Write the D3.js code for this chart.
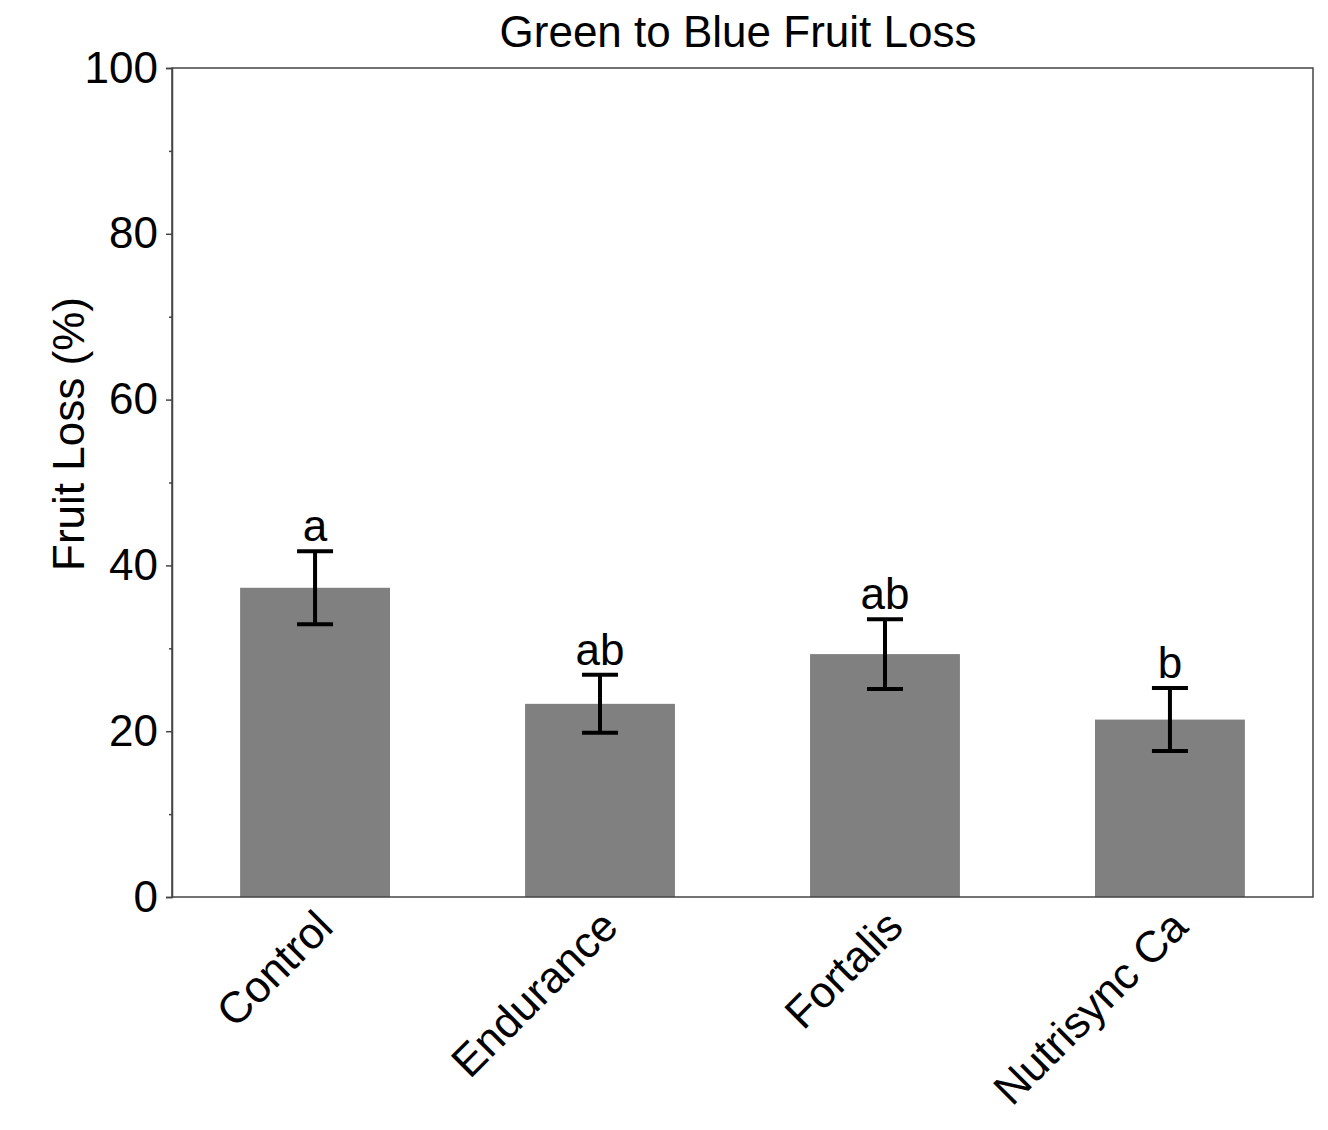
<!DOCTYPE html>
<html><head><meta charset="utf-8">
<script src="https://cdn.jsdelivr.net/npm/d3@7"></script>
<style>body{margin:0;background:#fff}svg{font-family:"Liberation Sans",Arial,sans-serif}</style>
</head><body>
<svg id="c" width="1328" height="1130"></svg>
<script>
const categories = ["Control","Endurance","Fortalis","Nutrisync Ca"];
const values = [37.3, 23.3, 29.3, 21.4];
const errors = [4.4, 3.5, 4.2, 3.8];
const letters = ["a","ab","ab","b"];
const yTicks = [0,20,40,60,80,100];
const yMinor = [10,30,50,70,90];

const svg = d3.select("#c");
const m = {l:172, r:1313, t:68, b:897};
const x = d3.scaleBand().domain(categories).range([m.l, m.r]).paddingInner(0.474).paddingOuter(0.239);
const y = d3.scaleLinear().domain([0,100]).range([m.b, m.t]);
const axisColor = "#444";
const fs = 44;

svg.selectAll("rect.bar").data(values).enter().append("rect")
  .attr("x",(d,i)=>x(categories[i])).attr("width",x.bandwidth())
  .attr("y",d=>y(d)).attr("height",d=>y(0)-y(d)).attr("fill","#808080");

// frame
svg.append("rect").attr("x",m.l).attr("y",m.t).attr("width",m.r-m.l).attr("height",m.b-m.t)
  .attr("fill","none").attr("stroke",axisColor).attr("stroke-width",1.5);

// y axis
const ya = svg.append("g").attr("transform",`translate(${m.l},0)`)
  .call(d3.axisLeft(y).tickValues(yTicks).tickSize(6).tickPadding(8));
ya.select(".domain").attr("stroke",axisColor).attr("stroke-width",1.5);
ya.selectAll(".tick line").attr("stroke",axisColor).attr("stroke-width",1.5);
ya.selectAll(".tick text").attr("font-size",fs).attr("fill","#000").attr("font-family","Liberation Sans, Arial, sans-serif");
const ym = svg.append("g").attr("transform",`translate(${m.l},0)`)
  .call(d3.axisLeft(y).tickValues(yMinor).tickSize(3).tickFormat(""));
ym.select(".domain").remove();
ym.selectAll(".tick line").attr("stroke",axisColor).attr("stroke-width",1.5);

// x labels
svg.selectAll("text.xl").data(categories).enter().append("text")
  .attr("transform",d=>`translate(${x(d)+x.bandwidth()/2+12},${m.b+24}) rotate(-45)`)
  .attr("text-anchor","end").attr("dominant-baseline","middle")
  .attr("font-size",fs).attr("fill","#000").text(d=>d);

// error bars
const cap = 18;
const eb = svg.append("g").attr("stroke","#000").attr("stroke-width",4).attr("fill","none");
values.forEach((v,i)=>{
  const cx = x(categories[i])+x.bandwidth()/2;
  const hi = y(v+errors[i]), lo = y(v-errors[i]);
  eb.append("line").attr("x1",cx).attr("x2",cx).attr("y1",hi).attr("y2",lo);
  eb.append("line").attr("x1",cx-cap).attr("x2",cx+cap).attr("y1",hi).attr("y2",hi);
  eb.append("line").attr("x1",cx-cap).attr("x2",cx+cap).attr("y1",lo).attr("y2",lo);
  svg.append("text").attr("x",cx).attr("y",hi-10).attr("text-anchor","middle")
    .attr("font-size",fs).attr("fill","#000").text(letters[i]);
});

// title
svg.append("text").attr("x",738).attr("y",47).attr("text-anchor","middle")
  .attr("font-size",fs).attr("fill","#000").text("Green to Blue Fruit Loss");

// y label
svg.append("text").attr("transform",`translate(84,434) rotate(-90)`)
  .attr("text-anchor","middle").attr("font-size",fs).attr("fill","#000").text("Fruit Loss (%)");
</script>
</body></html>
